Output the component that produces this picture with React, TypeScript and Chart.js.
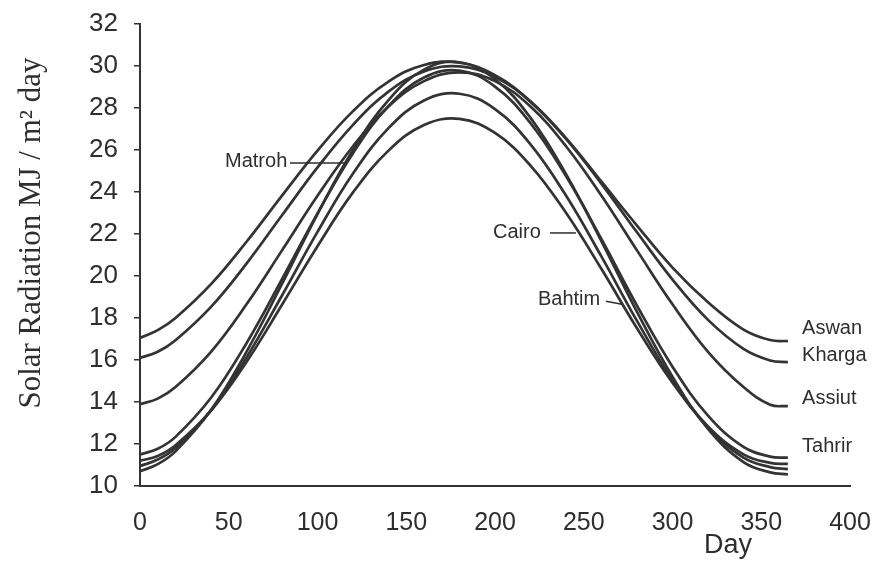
import React, { useEffect, useRef } from "react";
import { Chart, registerables } from "chart.js";

Chart.register(...registerables);

// Day of year
const days = [0, 10, 20, 40, 60, 80, 100, 120, 140, 160, 180, 200, 220, 240, 260, 280, 300, 320, 340, 355, 365];

// Solar radiation (MJ / m2 day) per station
const aswan = [17.05, 17.42, 18.0, 19.61, 21.63, 23.83, 25.97, 27.85, 29.26, 30.05, 30.16, 29.56, 28.32, 26.57, 24.49, 22.4, 20.4, 18.75, 17.45, 16.95, 16.9];
const kharga = [16.1, 16.39, 16.94, 18.53, 20.59, 22.89, 25.17, 27.2, 28.78, 29.74, 29.98, 29.48, 28.29, 26.53, 24.39, 22.08, 19.83, 17.91, 16.53, 15.98, 15.9];
const assiut = [13.9, 14.16, 14.71, 16.39, 18.65, 21.22, 23.82, 26.18, 28.07, 29.28, 29.7, 29.28, 28.07, 26.18, 23.82, 21.22, 18.65, 16.39, 14.71, 13.87, 13.8];
const tahrir = [11.5, 11.77, 12.34, 14.2, 16.8, 19.85, 22.98, 25.85, 28.09, 29.45, 29.78, 29.02, 27.28, 24.76, 21.75, 18.59, 15.68, 13.35, 11.86, 11.4, 11.35];
const matroh = [10.7, 11.04, 11.65, 13.62, 16.39, 19.62, 22.95, 26.0, 28.38, 29.83, 30.18, 29.37, 27.53, 24.85, 21.65, 18.29, 15.2, 12.72, 11.14, 10.65, 10.55];
const bahtim = [10.95, 11.26, 11.81, 13.6, 16.12, 19.07, 22.1, 24.88, 27.04, 28.36, 28.68, 27.95, 26.27, 23.83, 20.92, 17.86, 15.04, 12.79, 11.35, 10.9, 10.8];
const cairo = [11.2, 11.43, 11.94, 13.59, 15.91, 18.63, 21.42, 23.98, 25.97, 27.19, 27.48, 26.81, 25.26, 23.01, 20.33, 17.51, 14.92, 12.84, 11.51, 11.1, 11.05];

const seriesNames = ["Aswan", "Kharga", "Assiut", "Tahrir", "Matroh", "Bahtim", "Cairo"];
const seriesValues = [aswan, kharga, assiut, tahrir, matroh, bahtim, cairo];

// Axis settings
const xMin = 0;
const xMax = 400;
const xStep = 50;
const yMin = 10;
const yMax = 32;
const yStep = 2;

const yTitle = "Solar Radiation MJ / m\u00B2 day";
const xTitle = "Day";

// Curve labels, anchored in data units (day, value)
const labelTexts = ["Matroh", "Cairo", "Bahtim", "Aswan", "Kharga", "Assiut", "Tahrir"];
const labelDays = [47.9, 198.9, 224.2, 373, 373, 373, 373];
const labelVals = [25.43, 22.05, 18.9, 17.52, 16.2, 14.19, 11.9];
// leader lines: [day1, val1, day2, val2]
const leaders = [
  [84.5, 25.38, 115.5, 25.38],
  [231, 22.05, 245.6, 22.05],
  [262.5, 18.8, 271.5, 18.65],
];

const INK = "#2e2e2e";
const SANS = '"Liberation Sans", Arial, sans-serif';
const SERIF = '"Liberation Serif", "Times New Roman", serif';

const annotationPlugin = {
  id: "annotationPlugin",
  afterDraw(chart: any) {
    const { ctx, scales } = chart;
    const xs = scales.x;
    const ys = scales.y;
    ctx.save();
    ctx.fillStyle = INK;
    ctx.strokeStyle = INK;
    ctx.font = `20px ${SANS}`;
    ctx.textAlign = "left";
    ctx.textBaseline = "middle";
    labelTexts.forEach((t, i) => {
      ctx.fillText(t, xs.getPixelForValue(labelDays[i]), ys.getPixelForValue(labelVals[i]));
    });
    ctx.lineWidth = 1.5;
    leaders.forEach((l) => {
      ctx.beginPath();
      ctx.moveTo(xs.getPixelForValue(l[0]), ys.getPixelForValue(l[1]));
      ctx.lineTo(xs.getPixelForValue(l[2]), ys.getPixelForValue(l[3]));
      ctx.stroke();
    });
    // x title
    ctx.font = `27px ${SANS}`;
    ctx.textAlign = "center";
    ctx.textBaseline = "alphabetic";
    ctx.fillText(xTitle, 728, 553);
    // y title
    ctx.save();
    ctx.translate(40, 233);
    ctx.rotate(-Math.PI / 2);
    ctx.font = `31px ${SERIF}`;
    ctx.textAlign = "center";
    ctx.textBaseline = "alphabetic";
    ctx.fillText(yTitle, 0, 0);
    ctx.restore();
    ctx.restore();
  },
};

export default function App() {
  const canvasRef = useRef<HTMLCanvasElement | null>(null);

  useEffect(() => {
    document.body.style.margin = "0";
    const canvas = canvasRef.current;
    if (!canvas) return;
    const datasets = seriesValues.map((vals, i) => ({
      label: seriesNames[i],
      data: days.map((d, j) => ({ x: d, y: vals[j] })),
      borderColor: "#333333",
      borderWidth: 2.7,
      pointRadius: 0,
      fill: false,
      tension: 0.4,
    }));
    const chart = new Chart(canvas, {
      type: "line",
      data: { datasets },
      options: {
        animation: false,
        responsive: false,
        events: [],
        layout: { padding: { left: 0, right: 27, top: 24, bottom: 0 } },
        plugins: {
          legend: { display: false },
          tooltip: { enabled: false },
          title: { display: false },
        },
        scales: {
          x: {
            type: "linear",
            position: "bottom",
            min: xMin,
            max: xMax,
            afterFit: (s: any) => {
              s.height = 82;
              s.paddingLeft = 0;
              s.paddingRight = 0;
            },
            ticks: {
              stepSize: xStep,
              autoSkip: false,
              maxRotation: 0,
              padding: 22,
              color: INK,
              font: { family: SANS, size: 25 },
            },
            grid: { display: true, drawOnChartArea: false, drawTicks: false },
            border: { display: true, color: "#333", width: 2 },
          },
          y: {
            type: "linear",
            min: yMin,
            max: yMax,
            afterFit: (s: any) => {
              s.width = 140;
              s.paddingTop = 0;
              s.paddingBottom = 0;
            },
            ticks: {
              stepSize: yStep,
              padding: 16,
              color: INK,
              font: { family: SANS, size: 26 },
            },
            grid: {
              display: true,
              drawOnChartArea: false,
              drawTicks: true,
              tickLength: 6,
              color: "#333",
              lineWidth: 1.5,
            },
            border: { display: true, color: "#333", width: 2 },
          },
        },
      },
      plugins: [annotationPlugin],
    });
    return () => chart.destroy();
  }, []);

  return (
    <div style={{ position: "fixed", left: 0, top: 0, width: 877, height: 568, background: "#fff" }}>
      <canvas ref={canvasRef} width={877} height={568} style={{ display: "block" }} />
    </div>
  );
}
